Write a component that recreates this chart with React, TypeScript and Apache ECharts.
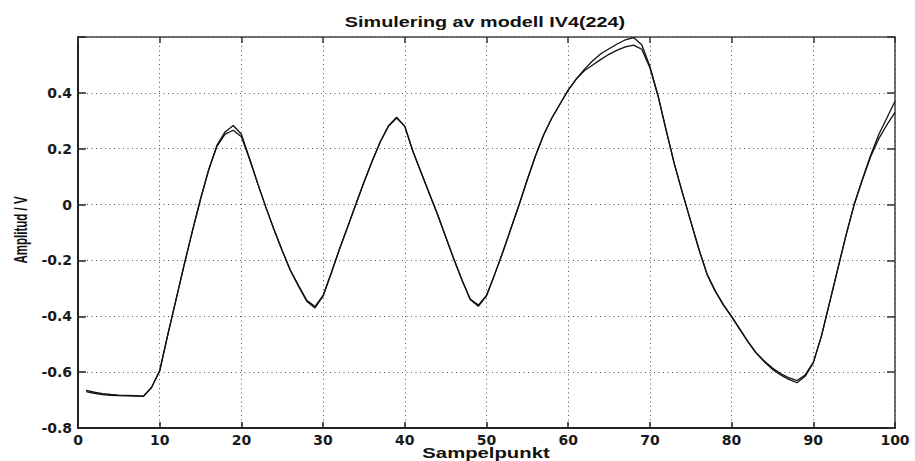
import React, { useEffect, useRef } from 'react';
import * as echarts from 'echarts';

const titleText = 'Simulering av modell IV4(224)';
const xAxisName = 'Sampelpunkt';
const yAxisName = 'Amplitud / V';
const xTickLabels = ['0', '10', '20', '30', '40', '50', '60', '70', '80', '90', '100'];
const yTickLabels = ['-0.8', '-0.6', '-0.4', '-0.2', '0', '0.2', '0.4'];

// Sample points 1..100 (the value at index i belongs to sample i + 1)
const measured = [
  -0.665, -0.672, -0.677, -0.680, -0.682, -0.683, -0.684, -0.686, -0.655, -0.595,
  -0.465, -0.340, -0.215, -0.095, 0.020, 0.125, 0.212, 0.260, 0.283, 0.252,
  0.165, 0.075, -0.010, -0.090, -0.165, -0.235, -0.290, -0.343, -0.365, -0.325,
  -0.245, -0.160, -0.080, 0.000, 0.080, 0.155, 0.225, 0.282, 0.313, 0.280,
  0.190, 0.115, 0.040, -0.035, -0.115, -0.195, -0.270, -0.338, -0.360, -0.325,
  -0.250, -0.170, -0.085, 0.000, 0.090, 0.175, 0.250, 0.310, 0.360, 0.410,
  0.450, 0.485, 0.515, 0.540, 0.558, 0.575, 0.590, 0.598, 0.572, 0.495,
  0.390, 0.265, 0.145, 0.040, -0.060, -0.160, -0.250, -0.310, -0.358, -0.400,
  -0.445, -0.490, -0.530, -0.560, -0.585, -0.605, -0.620, -0.630, -0.610, -0.565,
  -0.470, -0.350, -0.230, -0.110, 0.000, 0.090, 0.175, 0.250, 0.310, 0.370,
];

const simulated = [
  -0.670, -0.676, -0.680, -0.683, -0.684, -0.685, -0.686, -0.687, -0.655, -0.595,
  -0.465, -0.340, -0.215, -0.095, 0.020, 0.125, 0.208, 0.252, 0.266, 0.243,
  0.162, 0.075, -0.010, -0.090, -0.165, -0.237, -0.293, -0.346, -0.370, -0.328,
  -0.245, -0.160, -0.080, 0.000, 0.080, 0.155, 0.225, 0.280, 0.310, 0.280,
  0.190, 0.115, 0.040, -0.035, -0.115, -0.195, -0.270, -0.340, -0.364, -0.327,
  -0.250, -0.170, -0.085, 0.000, 0.090, 0.175, 0.250, 0.310, 0.360, 0.410,
  0.450, 0.480, 0.500, 0.520, 0.538, 0.553, 0.565, 0.571, 0.556, 0.490,
  0.388, 0.265, 0.145, 0.040, -0.060, -0.160, -0.250, -0.310, -0.360, -0.402,
  -0.447, -0.492, -0.532, -0.563, -0.590, -0.610, -0.626, -0.638, -0.615, -0.567,
  -0.470, -0.350, -0.230, -0.110, 0.000, 0.088, 0.170, 0.235, 0.285, 0.330,
];

const toPairs = (arr: number[]) => arr.map((v, i) => [i + 1, v]);

export default function App() {
  const ref = useRef<HTMLDivElement>(null);

  useEffect(() => {
    if (!ref.current) return;
    const chart = echarts.init(ref.current, null, { renderer: 'svg' });
    const labelFont = { fontSize: 14, fontWeight: 'bold', fontFamily: 'DejaVu Sans', color: '#1a1a1a' };
    const gridLine = { show: true, lineStyle: { color: '#555', type: [1, 3.5] as any, width: 1 } };

    chart.setOption({
      animation: false,
      backgroundColor: '#ffffff',
      grid: { left: 78, right: 20, top: 37, bottom: 33, containLabel: false },
      xAxis: [
        {
          type: 'value', min: 0, max: 100, interval: 10, position: 'bottom',
          axisLine: { show: true, onZero: false, lineStyle: { color: '#222', width: 2 } },
          axisTick: { show: true, inside: true, length: 6, lineStyle: { color: '#222', width: 1.5 } },
          axisLabel: {
            ...labelFont, margin: 5,
            formatter: (v: number) => xTickLabels[Math.round(v / 10)] ?? '',
          },
          splitLine: gridLine,
        },
        {
          type: 'value', min: 0, max: 100, interval: 10, position: 'top',
          axisLine: { show: true, onZero: false, lineStyle: { color: '#444', width: 1.5 } },
          axisTick: { show: true, inside: true, length: 6, lineStyle: { color: '#333', width: 1.5 } },
          axisLabel: { show: false },
          splitLine: { show: false },
        },
      ],
      yAxis: [
        {
          type: 'value', min: -0.8, max: 0.6, interval: 0.2, position: 'left',
          axisLine: { show: true, onZero: false, lineStyle: { color: '#222', width: 2 } },
          axisTick: { show: true, inside: true, length: 8, lineStyle: { color: '#222', width: 1.5 } },
          axisLabel: {
            ...labelFont, margin: 6,
            formatter: (v: number) => yTickLabels[Math.round((v + 0.8) / 0.2)] ?? '',
          },
          splitLine: gridLine,
        },
        {
          type: 'value', min: -0.8, max: 0.6, interval: 0.2, position: 'right',
          axisLine: { show: true, onZero: false, lineStyle: { color: '#444', width: 1.5 } },
          axisTick: { show: true, inside: true, length: 8, lineStyle: { color: '#333', width: 1.5 } },
          axisLabel: { show: false },
          splitLine: { show: false },
        },
      ],
      graphic: [
        {
          type: 'text', x: 485, y: 22, scaleX: 1.32,
          style: {
            text: titleText, fontSize: 15, fontWeight: 'bold', fontFamily: 'Liberation Sans',
            fill: '#111', textAlign: 'center', textVerticalAlign: 'middle', align: 'center', verticalAlign: 'middle',
          },
        },
        {
          type: 'text', x: 486, y: 453, scaleX: 1.45,
          style: {
            text: xAxisName, fontSize: 14, fontWeight: 'bold', fontFamily: 'Liberation Sans',
            fill: '#111', textAlign: 'center', textVerticalAlign: 'middle', align: 'center', verticalAlign: 'middle',
          },
        },
        {
          type: 'text', x: 20, y: 230, rotation: Math.PI / 2, scaleX: 0.64,
          style: {
            text: yAxisName, fontSize: 18, fontWeight: 'bold', fontFamily: 'Liberation Sans',
            fill: '#111', textAlign: 'center', textVerticalAlign: 'middle', align: 'center', verticalAlign: 'middle',
          },
        },
      ],
      series: [
        {
          name: 'Mätdata', type: 'line', xAxisIndex: 0, yAxisIndex: 0,
          data: toPairs(measured), showSymbol: false, smooth: false,
          lineStyle: { color: '#111', width: 1.3 },
        },
        {
          name: 'Simulering', type: 'line', xAxisIndex: 0, yAxisIndex: 0,
          data: toPairs(simulated), showSymbol: false, smooth: false,
          lineStyle: { color: '#111', width: 1.3 },
        },
      ],
    });

    return () => chart.dispose();
  }, []);

  return (
    <div
      ref={ref}
      style={{ position: 'fixed', left: 0, top: 0, width: 915, height: 461, background: '#fff' }}
    />
  );
}
